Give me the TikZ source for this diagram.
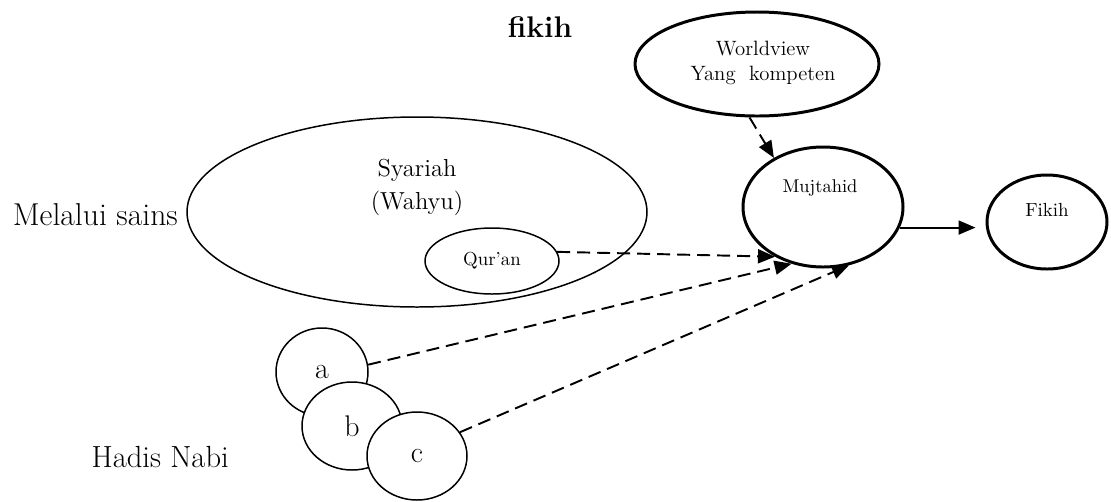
\documentclass[tikz,border=0pt]{standalone}
\usetikzlibrary{arrows.meta,shapes.geometric}
\tikzset{
  oval/.style={draw,ellipse,line width=0.85pt,fill=white,inner sep=0pt},
  thickoval/.style={oval,line width=1.7pt},
  dasharrow/.style={->,line width=1.1pt,dash pattern=on 2.6mm off 1.4mm},
}
\begin{document}
\begin{tikzpicture}[x=0.2mm,y=-0.2mm,>={Triangle[length=3.4mm,width=2.8mm]}]
  \useasboundingbox (0,0) rectangle (1111,501);
  % judul
  \node[font=\fontsize{17}{20}\selectfont\bfseries] (judul) at (540,27) {fikih};
  % syariah
  \node[oval,minimum width=92mm,minimum height=38mm] (syariah) at (417,212) {};
  \node[align=center,font=\fontsize{14}{18.7}\selectfont] (syariahtxt) at (417,187) {Syariah\\(Wahyu)};
  \node[oval,minimum width=26.8mm,minimum height=13.2mm,font=\fontsize{10.7}{13}\selectfont] (quran) at (492,261) {Qur'an};
  \node[anchor=base east,font=\fontsize{18}{21}\selectfont] (sains) at (184,225) {Melalui sains};
  % hadis
  \node[oval,minimum width=18.4mm,minimum height=17.6mm,font=\fontsize{17}{20}\selectfont] (a) at (322,372) {a};
  \node[oval,minimum width=20mm,minimum height=17.6mm,font=\fontsize{17}{20}\selectfont] (b) at (352,426) {b};
  \node[oval,minimum width=20mm,minimum height=17.6mm,font=\fontsize{17}{20}\selectfont] (c) at (417,456) {c};
  \node[anchor=base east,font=\fontsize{17.4}{20}\selectfont] (hadis) at (235,467) {Hadis Nabi};
  % mujtahid
  \node[thickoval,minimum width=48.8mm,minimum height=20.8mm] (worldview) at (757,64) {};
  \node[align=center,font=\fontsize{11.8}{14.7}\selectfont] (worldviewtxt) at (763,63) {Worldview\\Yang\ \ kompeten};
  \node[thickoval,minimum width=32mm,minimum height=24mm] (mujtahid) at (823,207) {};
  \node[font=\fontsize{10.5}{13}\selectfont] (mujtahidtxt) at (820,188) {Mujtahid};
  \node[thickoval,minimum width=24mm,minimum height=18.8mm] (fikih) at (1047,222) {};
  \node[font=\fontsize{10.8}{13}\selectfont] (fikihtxt) at (1047,210) {Fikih};
  % panah
  \draw[dasharrow] (worldview.262) -- (mujtahid.135);
  \draw[dasharrow] (quran.8) -- (mujtahid.226);
  \draw[dasharrow] (a.9) -- (mujtahid.241);
  \draw[dasharrow] (c.29) -- (mujtahid.294);
  \draw[->,line width=1.1pt,shorten >=2mm] (mujtahid.-15) -- (mujtahid.-15 -| fikih.west);
\end{tikzpicture}
\end{document}
